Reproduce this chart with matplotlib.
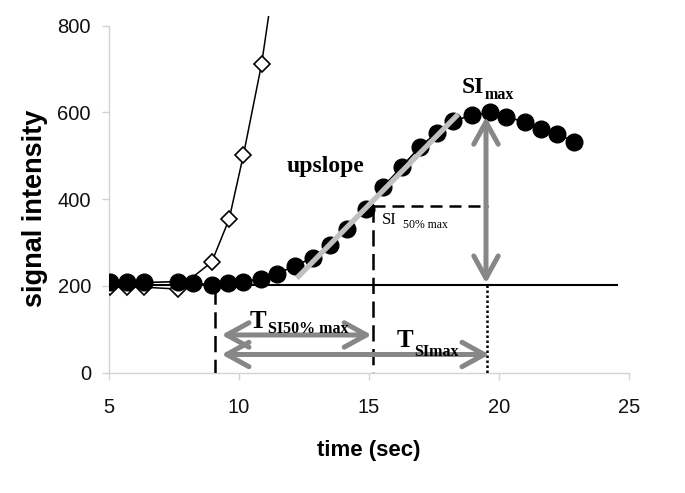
import matplotlib
matplotlib.use('Agg')
import matplotlib.pyplot as plt
from matplotlib.patches import FancyArrowPatch, ArrowStyle

plt.rcParams['font.family'] = ['Liberation Sans', 'DejaVu Sans']

# ---------------- data ----------------
t_circ = [5.04, 5.70, 6.36, 7.64, 8.24, 8.95, 9.59, 10.17, 10.83, 11.45, 12.15,
          12.83, 13.50, 14.17, 14.88, 15.55, 16.26, 16.96, 17.60, 18.24, 18.95,
          19.65, 20.26, 21.00, 21.62, 22.22, 22.90]
si_circ = [210, 210, 208, 210, 206, 203, 206, 210, 216, 228, 246,
           265, 294, 331, 377, 429, 475, 521, 553, 580, 594,
           600, 589, 579, 561, 550, 533]

t_diam = [5.04, 5.70, 6.36, 7.64, 8.95, 9.62, 10.17, 10.87, 11.45]
si_diam = [197, 197, 197, 193, 255, 354, 502, 712, 950]

x_ticks = [5, 10, 15, 20, 25]
y_ticks = [0, 200, 400, 600, 800]

baseline_si = 203
baseline_t = [5.0, 24.55]
upslope_t = [12.22, 18.43]
upslope_si = [218, 596]
t_onset = 9.08
t_half = 15.17
si_half = 385
t_peak = 19.52
si_peak_arrow = [206, 590]
arrow_left = 9.33
arrow_half_right = 15.10
arrow_peak_right = 19.63
arrow_half_y = 87
arrow_peak_y = 42

serif = ['Liberation Serif', 'DejaVu Serif']
grey = '#878787'

fig = plt.figure(figsize=(6.85, 4.93), dpi=100)
ax = fig.add_axes([109 / 685, 1 - 372.7 / 493, 520 / 685, 356.5 / 493])
ax.set_xlim(5, 25)
ax.set_ylim(0, 822)

# baseline
ax.plot(baseline_t, [baseline_si, baseline_si], color='black', lw=1.5, zorder=2)

# diamond curve
ax.plot(t_diam, si_diam, color='black', lw=1.1, marker='D', ms=8.5,
        mfc='white', mec='black', mew=1.2, zorder=3)
# circle curve
ax.plot(t_circ, si_circ, color='black', lw=1.2, marker='o', ms=12,
        mfc='black', mec='black', zorder=4)

# upslope line
ax.plot(upslope_t, upslope_si, color='#c0c0c0', lw=3.8, solid_capstyle='butt', zorder=5)

# dashed / dotted guides
ax.plot([t_onset, t_onset], [baseline_si - 8, 0], color='black', lw=1.8,
        linestyle=(0, (6.5, 3)), zorder=3)
ax.plot([t_half, t_half], [si_half, 0], color='black', lw=1.8,
        linestyle=(0, (6.5, 3)), zorder=3)
ax.plot([t_half, t_peak + 0.07], [si_half, si_half], color='black', lw=1.8,
        linestyle=(0, (4.8, 2.8)), zorder=3)
ax.plot([t_peak, t_peak], [baseline_si, 0], color='black', lw=1.8,
        linestyle=(0, (1, 1)), zorder=3)

# grey arrows
style = ArrowStyle('<->', head_length=0.4, head_width=0.22)
def garrow(p0, p1):
    a = FancyArrowPatch(p0, p1, arrowstyle=style, mutation_scale=40,
                        lw=3.6, color=grey, shrinkA=0, shrinkB=0, zorder=6)
    ax.add_patch(a)

garrow((t_peak - 0.02, si_peak_arrow[0]), (t_peak - 0.02, si_peak_arrow[1]))
garrow((arrow_left, arrow_half_y), (arrow_half_right, arrow_half_y))
garrow((arrow_left, arrow_peak_y), (arrow_peak_right, arrow_peak_y))

# text labels
ax.text(11.83, 463, 'upslope', fontfamily=serif, fontweight='bold',
        fontsize=17, va='baseline', ha='left', zorder=7)

def subtext(x, y, main, sub, size, subsize, dx, dy, weight='bold'):
    t = ax.text(x, y, main, fontfamily=serif, fontweight=weight,
                fontsize=size, va='baseline', ha='left', zorder=7)
    ax.annotate(sub, xy=(1, 0), xycoords=t, xytext=(dx, dy),
                textcoords='offset points', fontfamily=serif,
                fontweight=weight, fontsize=subsize, va='bottom', ha='left',
                zorder=7)

subtext(18.57, 644, 'SI', 'max', 17, 11.5, 0.5, -3.1)
subtext(15.50, 344, 'SI', '50% max', 12, 8.5, 4.5, -2.8, weight='normal')
subtext(10.42, 102, 'T', 'SI50% max', 18, 11.5, 0.8, -2.2)
subtext(16.07, 60, 'T', 'SImax', 18, 11.5, 0.8, -6.2)

# axes styling
for s in ['top', 'right']:
    ax.spines[s].set_visible(False)
for s in ['left', 'bottom']:
    ax.spines[s].set_color('#d3d3d3')
    ax.spines[s].set_linewidth(1.0)
ax.spines['left'].set_bounds(0, 800)
ax.set_xticks(x_ticks)
ax.set_yticks(y_ticks)
ax.tick_params(axis='both', length=5, width=1, color='#d3d3d3', labelsize=14.5,
               labelcolor='#111111')
ax.tick_params(axis='y', pad=8)
ax.tick_params(axis='x', pad=13)

ax.set_xlabel('time (sec)', fontsize=16, fontweight='bold')
ax.xaxis.set_label_coords(0.5, -0.19)
ax.set_ylabel('signal intensity', fontsize=19.5, fontweight='bold')
ax.yaxis.set_label_coords(-0.142, 0.46)
ax.yaxis.label.set_va('center')

fig.savefig('out.png', dpi=100)
